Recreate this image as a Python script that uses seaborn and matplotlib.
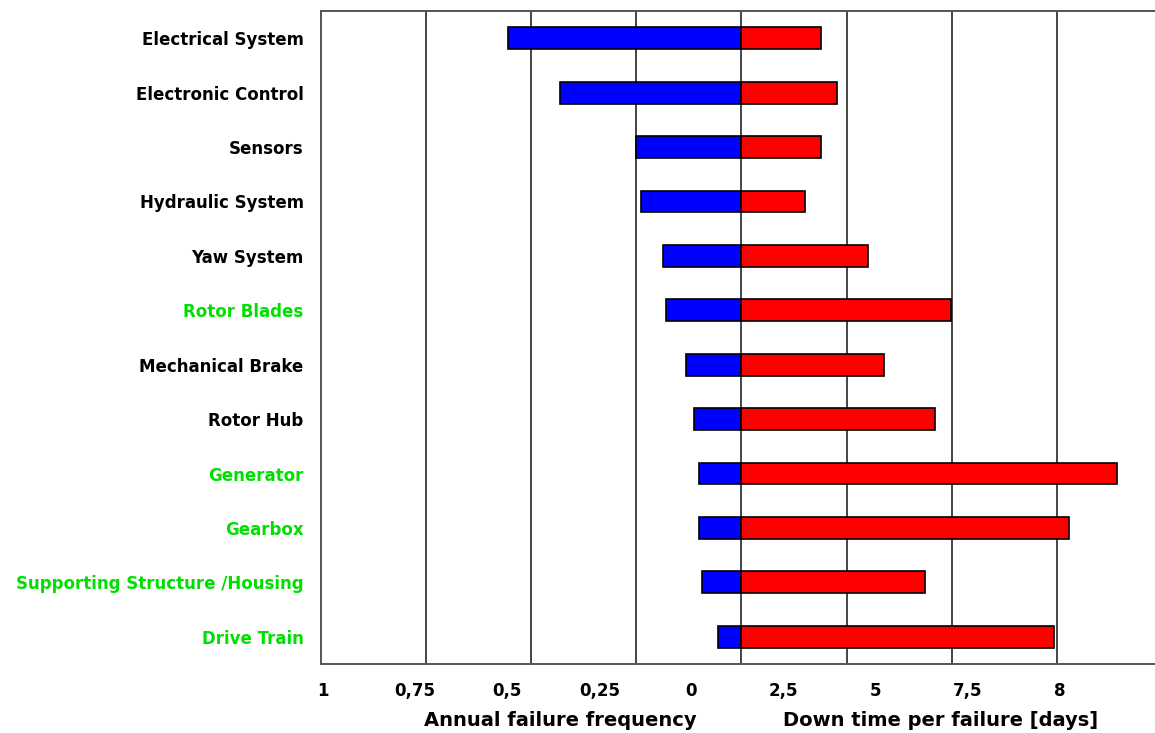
import matplotlib
matplotlib.use("Agg")
import matplotlib.pyplot as plt
import seaborn as sns
import pandas as pd

# components, top to bottom
components = ["Electrical System", "Electronic Control", "Sensors", "Hydraulic System",
              "Yaw System", "Rotor Blades", "Mechanical Brake", "Rotor Hub",
              "Generator", "Gearbox", "Supporting Structure /Housing", "Drive Train"]
# annual failure frequency (left side)
failure_freq = [0.555, 0.431, 0.252, 0.238, 0.186, 0.179, 0.133, 0.114, 0.102, 0.102, 0.093, 0.055]
# down time per failure in days (right side)
down_days = [1.90, 2.26, 1.88, 1.50, 3.02, 4.98, 3.40, 4.60, 8.93, 7.79, 4.36, 7.43]
# components highlighted in green
highlighted = ["Rotor Blades", "Generator", "Gearbox", "Supporting Structure /Housing", "Drive Train"]
# bottom tick labels (as printed in the original)
tick_labels = ["1", "0,75", "0,5", "0,25", "0", "2,5", "5", "7,5", "8"]

sns.set_style("white")
plt.rcParams['font.family'] = ['DejaVu Sans']
plt.rcParams['text.color'] = 'black'
plt.rcParams['xtick.color'] = 'black'
plt.rcParams['ytick.color'] = 'black'

# both halves share one axis: one grid cell = 0.25 failures/year on the left, 2.5 days on the right
df = pd.DataFrame({
    "component": components,
    "freq": [-f / 0.25 for f in failure_freq],
    "days": [d / 2.5 for d in down_days],
})

fig = plt.figure(figsize=(11.55, 7.33), dpi=100)
ax = fig.add_axes([321 / 1155, 69 / 733, 841 / 1155, 653 / 733])

sns.barplot(data=df, y="component", x="freq", color="#0000ff", saturation=1,
            width=0.4, edgecolor="black", linewidth=1.2, ax=ax, zorder=3)
sns.barplot(data=df, y="component", x="days", color="#ff0000", saturation=1,
            width=0.4, edgecolor="black", linewidth=1.2, ax=ax, zorder=3)

ax.set_xlim(-4, 4)
ax.set_ylim(11.5, -0.5)

for gx in [-3, -2, -1, 0, 1, 2, 3]:
    ax.axvline(gx, color="#444444", linewidth=1.4, zorder=1)

# tick labels sit where the original put them (evenly spaced, not on the grid)
tick_pos = [(324 + 92 * i - 742) / 105 for i in range(len(tick_labels))]
ax.set_xticks(tick_pos)
ax.set_xticklabels(tick_labels, fontsize=12, fontweight="bold")
ax.tick_params(axis="x", length=0, pad=13)
ax.tick_params(axis="y", length=0, pad=12.5)
ax.set_xlabel("")
ax.set_ylabel("")

for lab in ax.get_yticklabels():
    lab.set_fontsize(12)
    lab.set_fontweight("bold")
    if lab.get_text() in highlighted:
        lab.set_color("#00e000")

for side in ["left", "top", "bottom"]:
    ax.spines[side].set_color("#555555")
    ax.spines[side].set_linewidth(1.4)
ax.spines["right"].set_visible(False)

fig.text(560 / 1155, 1 - 721 / 733, "Annual failure frequency",
         ha="center", va="center", fontsize=14, fontweight="bold")
fig.text(941 / 1155, 1 - 721 / 733, "Down time per failure [days]",
         ha="center", va="center", fontsize=14, fontweight="bold")

fig.savefig("out.png", dpi=100)
